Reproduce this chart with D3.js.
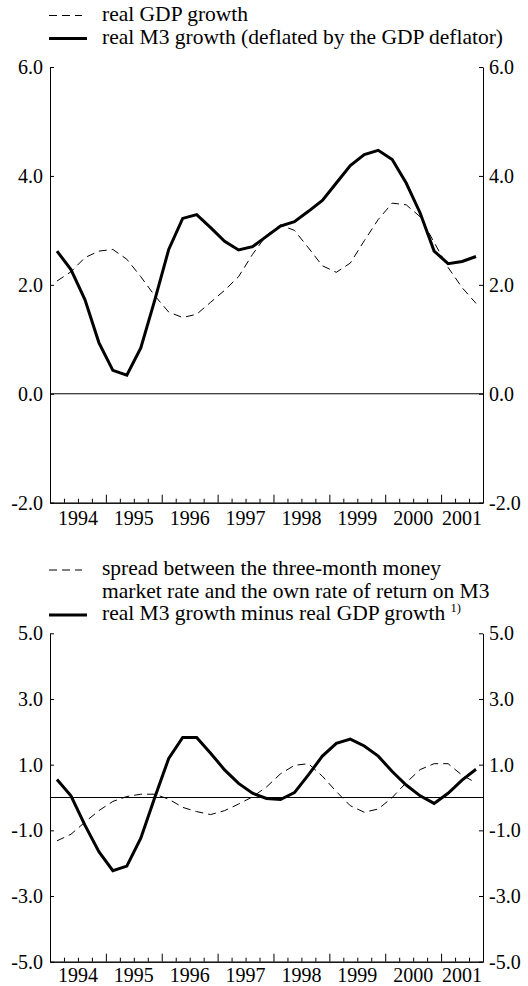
<!DOCTYPE html>
<html>
<head>
<meta charset="utf-8">
<script src="https://cdn.jsdelivr.net/npm/d3@7"></script>
<style>
  body { margin: 0; background: #fff; }
  text { font-family: "Liberation Serif", "Times New Roman", serif; fill: #000; }
</style>
</head>
<body>
<div id="chart"></div>
<script>
// quarterly data, 1994 Q1 - 2001 Q3
var years = [1994, 1995, 1996, 1997, 1998, 1999, 2000, 2001];
var nQuarters = 31;

// upper panel
var gdpGrowth = [2.07, 2.24, 2.50, 2.62, 2.65, 2.47, 2.15, 1.80, 1.50, 1.40, 1.46, 1.68, 1.90, 2.15, 2.56, 2.91,
                 3.10, 3.00, 2.68, 2.35, 2.23, 2.40, 2.81, 3.20, 3.50, 3.47, 3.25, 2.78, 2.32, 1.95, 1.66];
var m3Growth = [2.62, 2.28, 1.73, 0.94, 0.43, 0.34, 0.84, 1.72, 2.65, 3.22, 3.29, 3.05, 2.80, 2.64, 2.70, 2.89,
                3.08, 3.16, 3.35, 3.55, 3.87, 4.19, 4.39, 4.47, 4.30, 3.87, 3.32, 2.62, 2.39, 2.43, 2.52];
var topTicks = [6, 4, 2, 0, -2];

// lower panel
var spread = [-1.32, -1.12, -0.75, -0.40, -0.12, 0.03, 0.10, 0.10, -0.05, -0.30, -0.43, -0.52, -0.40, -0.20, 0.02, 0.32,
              0.72, 0.98, 1.03, 0.65, 0.18, -0.25, -0.45, -0.35, 0.00, 0.45, 0.85, 1.03, 1.03, 0.68, 0.45];
var m3MinusGdp = [0.55, 0.05, -0.84, -1.65, -2.23, -2.09, -1.24, 0.00, 1.19, 1.83, 1.83, 1.35, 0.84, 0.43, 0.13, -0.03,
                  -0.06, 0.15, 0.69, 1.26, 1.65, 1.78, 1.57, 1.26, 0.79, 0.38, 0.05, -0.18, 0.13, 0.53, 0.86];
var bottomTicks = [5, 3, 1, -1, -3, -5];

var width = 528, height = 986;
var left = 50, right = 483;

var svg = d3.select("#chart")
  .append("svg")
  .attr("width", width)
  .attr("height", height);

var x = d3.scaleLinear().domain([0, nQuarters]).range([left, right]);
var fmt = function(d) { return d.toFixed(1); };

function drawPanel(cfg) {
  var y = d3.scaleLinear().domain(cfg.domain).range([cfg.bottom, cfg.top]);
  var g = svg.append("g");

  // left / right axes, ticks pointing inwards
  var yl = g.append("g")
    .attr("transform", "translate(" + left + ",0)")
    .call(d3.axisLeft(y).tickValues(cfg.ticks).tickFormat(fmt).tickSize(-4).tickSizeOuter(0).tickPadding(7));
  var yr = g.append("g")
    .attr("transform", "translate(" + right + ",0)")
    .call(d3.axisRight(y).tickValues(cfg.ticks).tickFormat(fmt).tickSize(-4).tickSizeOuter(0).tickPadding(6));
  [yl, yr].forEach(function(a) {
    a.selectAll("text").style("font-size", "20px");
    a.attr("font-family", null).attr("font-size", null);
  });

  // bottom axis: quarter ticks + year ticks
  var minor = d3.range(1, nQuarters).filter(function(q) { return q % 4 != 0; });
  var major = d3.range(4, nQuarters, 4);
  g.append("g")
    .attr("transform", "translate(0," + cfg.bottom + ")")
    .call(d3.axisBottom(x).tickValues(minor).tickSize(-4).tickSizeOuter(0).tickFormat(""));
  g.append("g")
    .attr("transform", "translate(0," + cfg.bottom + ")")
    .call(d3.axisBottom(x).tickValues(major).tickSize(-8).tickSizeOuter(0).tickFormat(""));

  years.forEach(function(yr, k) {
    var s = k * 4, e = Math.min(s + 4, nQuarters);
    g.append("text")
      .attr("x", x((s + e) / 2))
      .attr("y", cfg.bottom + cfg.yearOffset)
      .attr("text-anchor", "middle")
      .style("font-size", "20px")
      .text(yr);
  });

  // zero line
  g.append("line")
    .attr("x1", left).attr("x2", right)
    .attr("y1", y(0)).attr("y2", y(0))
    .attr("stroke", "#000").attr("stroke-width", 1);

  var line = d3.line()
    .x(function(d, i) { return x(i + 0.5); })
    .y(function(d) { return y(d); });

  g.append("path")
    .datum(cfg.dashed)
    .attr("fill", "none")
    .attr("stroke", "#000")
    .attr("stroke-width", 1)
    .attr("stroke-dasharray", "8,5")
    .attr("d", line);

  g.append("path")
    .datum(cfg.solid)
    .attr("fill", "none")
    .attr("stroke", "#000")
    .attr("stroke-width", 3)
    .attr("d", line);

  // legend
  cfg.legend.forEach(function(item) {
    item.lines.forEach(function(t, j) {
      var txt = g.append("text")
        .attr("x", 102)
        .attr("y", item.y + j * 22.5)
        .style("font-size", "21.5px")
        .text(t);
      if (item.note && j == item.lines.length - 1) {
        txt.append("tspan")
          .attr("dy", -8)
          .style("font-size", "12.5px")
          .text(item.note);
      }
    });
    g.append("line")
      .attr("x1", 49).attr("x2", item.dashed ? 82 : 87)
      .attr("y1", item.y - 5).attr("y2", item.y - 5)
      .attr("stroke", "#000")
      .attr("stroke-width", item.dashed ? 1 : 3)
      .attr("stroke-dasharray", item.dashed ? "8,5" : null);
  });
}

drawPanel({
  top: 67, bottom: 502.7, domain: [-2, 6], ticks: topTicks, yearOffset: 22.5,
  dashed: gdpGrowth, solid: m3Growth,
  legend: [
    {y: 20.5, dashed: true, lines: ["real GDP growth"]},
    {y: 43.5, dashed: false, lines: ["real M3 growth (deflated by the GDP deflator)"]}
  ]
});

drawPanel({
  top: 633.3, bottom: 961.7, domain: [-5, 5], ticks: bottomTicks, yearOffset: 20.5,
  dashed: spread, solid: m3MinusGdp,
  legend: [
    {y: 575, dashed: true, lines: ["spread between the three-month money", "market rate and the own rate of return on M3"]},
    {y: 620, dashed: false, lines: ["real M3 growth minus real GDP growth "], note: "1)"}
  ]
});
</script>
</body>
</html>
